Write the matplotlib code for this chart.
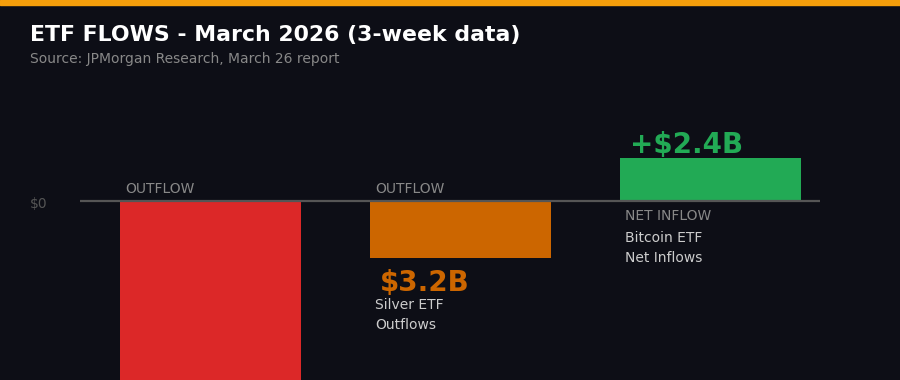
import matplotlib.pyplot as plt
from matplotlib.patches import Rectangle

# data (billions USD)
categories = ["Gold ETF", "Silver ETF", "Bitcoin ETF"]
values = [-12.0, -3.2, 2.4]
tags = ["OUTFLOW", "OUTFLOW", "NET INFLOW"]
value_labels = ["", "$3.2B", "+$2.4B"]
names = ["", "Silver ETF\nOutflows", "Bitcoin ETF\nNet Inflows"]
bar_colors = ["#dc2828", "#cc6600", "#22aa55"]

bg = "#0d0e16"
W, H = 900, 380

fig = plt.figure(figsize=(9, 3.8), dpi=100, facecolor=bg)
# axes span pixel x 80..820, y 80..380
ax = fig.add_axes([80 / W, 0, 740 / W, 300 / H])
ax.set_facecolor(bg)
ax.patch.set_alpha(0)

pxb = 17.9  # pixels per billion
ax.set_ylim(-179 / pxb, 121 / pxb)
ax.set_xlim(-0.522, 2.438)
width = 0.724

x = list(range(len(categories)))
ax.bar(x, values, width=width, color=bar_colors, zorder=2)
ax.axhline(0, color="#555555", lw=1.6, zorder=3)

for i, v in enumerate(values):
    left = x[i] - width / 2
    if v < 0:
        ax.annotate(tags[i], xy=(left, 0), xytext=(5, 8), textcoords="offset pixels",
                    color="#888888", fontsize=10, va="baseline", ha="left")
        ax.annotate(value_labels[i], xy=(left, v), xytext=(10, -25), textcoords="offset pixels",
                    color=bar_colors[i], fontsize=20, fontweight="bold", va="center", ha="left")
        for j, line in enumerate(names[i].split("\n")):
            if line:
                ax.annotate(line, xy=(left, v), xytext=(5, -47 - 20 * j), textcoords="offset pixels",
                            color="#cccccc", fontsize=10, va="center", ha="left")
    else:
        ax.annotate(value_labels[i], xy=(left, v), xytext=(10, 13), textcoords="offset pixels",
                    color=bar_colors[i], fontsize=20, fontweight="bold", va="center", ha="left")
        ax.annotate(tags[i], xy=(left, 0), xytext=(5, -15), textcoords="offset pixels",
                    color="#888888", fontsize=10, va="center", ha="left")
        for j, line in enumerate(names[i].split("\n")):
            ax.annotate(line, xy=(left, 0), xytext=(5, -37 - 20 * j), textcoords="offset pixels",
                        color="#cccccc", fontsize=10, va="center", ha="left")

ax.annotate("$0", xy=(0, 0), xycoords=("axes fraction", "data"), xytext=(-50, -3),
            textcoords="offset pixels", color="#555555", fontsize=10, va="center", ha="left")

ax.set_xticks([])
ax.set_yticks([])
for s in ax.spines.values():
    s.set_visible(False)

# top accent bar
fig.patches.append(Rectangle((0, 1 - 5 / H), 1, 5 / H, transform=fig.transFigure,
                             color="#f59e0b", zorder=5))

fig.text(30 / W, 1 - 34.5 / H, "ETF FLOWS - March 2026 (3-week data)", color="white",
         fontsize=15.8, fontweight="bold", va="center", ha="left")
fig.text(30 / W, 1 - 58.5 / H, "Source: JPMorgan Research, March 26 report", color="#888888",
         fontsize=10, va="center", ha="left")

fig.savefig("out.png", dpi=100, facecolor=bg)
